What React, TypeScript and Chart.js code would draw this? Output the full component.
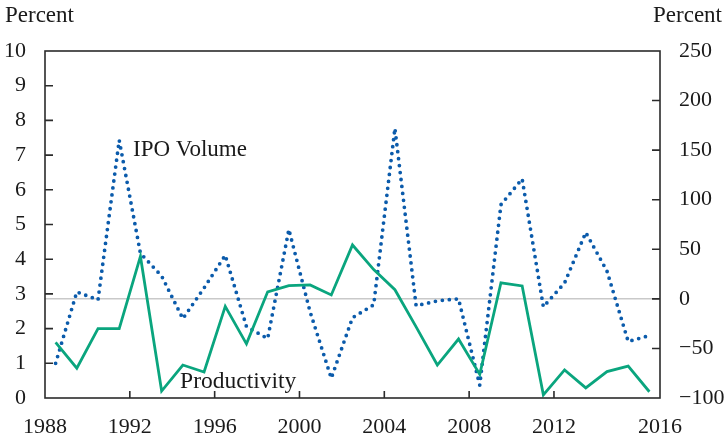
import React, { useEffect, useRef } from 'react';
import { Chart, registerables } from 'chart.js';

Chart.register(...registerables);

// Annual observations, 1988–2016
const years = [
  '1988', '1989', '1990', '1991', '1992', '1993', '1994', '1995', '1996', '1997',
  '1998', '1999', '2000', '2001', '2002', '2003', '2004', '2005', '2006', '2007',
  '2008', '2009', '2010', '2011', '2012', '2013', '2014', '2015', '2016',
];

// Productivity growth, percent (left axis)
const productivity = [
  1.6, 0.86, 2.0, 2.0, 4.08, 0.2, 0.95, 0.75, 2.64, 1.56,
  3.06, 3.24, 3.26, 2.97, 4.41, 3.7, 3.12, 2.05, 0.95, 1.7,
  0.68, 3.32, 3.23, 0.09, 0.81, 0.29, 0.76, 0.92, 0.18,
];

// IPO volume growth, percent (right axis)
const ipoVolume = [
  -65, 7, -1, 160, 46, 23, -20, 11, 44, -28,
  -40, 70, -13, -80, -19, -6, 172, -7, -2, 0,
  -87, 95, 121, -8, 16, 67, 28, -43, -37,
];

// x-axis tick labels (placed at year boundaries; the last sits at the axis end)
const xTickLabels = ['1988', '1992', '1996', '2000', '2004', '2008', '2012', '2016'];
const leftTicks = [0, 1, 2, 3, 4, 5, 6, 7, 8, 9, 10];
const rightTicks = [-100, -50, 0, 50, 100, 150, 200, 250];

const FONT = '"Liberation Serif", "DejaVu Serif", serif';
const TEXT = '#1a1a1a';
const GREEN = '#0aa57e';
const BLUE = '#0b5bab';

const xTickValues = xTickLabels.map((y) =>
  years.indexOf(y) >= 0 && y !== years[years.length - 1] ? years.indexOf(y) : years.length
);

const fmt = (v: number) => (v < 0 ? '\u2212' + Math.abs(v) : String(v));

const framePlugin = {
  id: 'frame',
  beforeDatasetsDraw(chart: any) {
    const { ctx, chartArea: a, scales } = chart;
    const y0 = scales.y1.getPixelForValue(0);
    ctx.save();
    ctx.strokeStyle = '#c9c9c9';
    ctx.lineWidth = 1.5;
    ctx.beginPath();
    ctx.moveTo(a.left, y0);
    ctx.lineTo(a.right, y0);
    ctx.stroke();
    ctx.restore();
  },
  afterDatasetsDraw(chart: any) {
    const { ctx, chartArea: a, scales } = chart;
    ctx.save();
    ctx.strokeStyle = '#2b2b2b';
    ctx.lineWidth = 1.6;
    ctx.strokeRect(a.left, a.top, a.right - a.left, a.bottom - a.top);
    const tl = 8;
    ctx.beginPath();
    leftTicks.forEach((v) => {
      if (v === leftTicks[0] || v === leftTicks[leftTicks.length - 1]) return;
      const y = scales.y.getPixelForValue(v);
      ctx.moveTo(a.left, y);
      ctx.lineTo(a.left + tl, y);
    });
    rightTicks.forEach((v) => {
      if (v === rightTicks[0] || v === rightTicks[rightTicks.length - 1]) return;
      const y = scales.y1.getPixelForValue(v);
      ctx.moveTo(a.right, y);
      ctx.lineTo(a.right - tl, y);
    });
    xTickValues.forEach((v) => {
      if (v === 0 || v === years.length) return;
      const x = scales.x.getPixelForValue(v);
      ctx.moveTo(x, a.bottom);
      ctx.lineTo(x, a.bottom - 7);
    });
    ctx.stroke();

    ctx.fillStyle = TEXT;
    ctx.textBaseline = 'middle';
    ctx.textAlign = 'left';
    ctx.font = `23px ${FONT}`;
    ctx.fillText('IPO Volume', scales.x.getPixelForValue(4.15), scales.y.getPixelForValue(7.15));
    ctx.font = `23.5px ${FONT}`;
    ctx.fillText('Productivity', scales.x.getPixelForValue(6.37), scales.y.getPixelForValue(0.46));
    ctx.restore();
  },
  afterDraw(chart: any) {
    const { ctx } = chart;
    ctx.save();
    ctx.fillStyle = TEXT;
    ctx.font = `23px ${FONT}`;
    ctx.textBaseline = 'middle';
    ctx.textAlign = 'left';
    ctx.fillText('Percent', 5, 16);
    ctx.textAlign = 'right';
    ctx.fillText('Percent', chart.width - 3, 16);
    ctx.restore();
  },
};

export default function App() {
  const ref = useRef<HTMLCanvasElement | null>(null);

  useEffect(() => {
    if (!ref.current) return;
    const tickFont = { family: FONT, size: 22 };
    const chart = new Chart(ref.current, {
      type: 'line',
      data: {
        datasets: [
          {
            label: 'Productivity',
            data: productivity.map((v, i) => ({ x: i + 0.5, y: v })),
            borderColor: GREEN,
            borderWidth: 2.8,
            pointRadius: 0,
            tension: 0,
            yAxisID: 'y',
          },
          {
            label: 'IPO Volume',
            data: ipoVolume.map((v, i) => ({ x: i + 0.5, y: v })),
            borderColor: BLUE,
            borderWidth: 3.8,
            borderDash: [0, 7],
            borderCapStyle: 'round',
            pointRadius: 0,
            tension: 0,
            yAxisID: 'y1',
          },
        ],
      },
      options: {
        animation: false,
        responsive: true,
        maintainAspectRatio: false,
        layout: { padding: { top: 51, left: 0, right: 0, bottom: 0 } },
        plugins: { legend: { display: false }, tooltip: { enabled: false } },
        scales: {
          x: {
            type: 'linear',
            min: 0,
            max: years.length,
            afterBuildTicks: (scale: any) => {
              scale.ticks = xTickValues.map((v) => ({ value: v }));
            },
            afterFit: (scale: any) => {
              scale.height = 43;
            },
            grid: { display: false, drawTicks: false },
            border: { display: false },
            ticks: {
              autoSkip: false,
              maxRotation: 0,
              padding: 16,
              color: TEXT,
              font: tickFont,
              callback: (v: any) => {
                const k = xTickValues.indexOf(Number(v));
                return k >= 0 ? xTickLabels[k] : '';
              },
            },
          },
          y: {
            position: 'left',
            min: 0,
            max: 10,
            afterBuildTicks: (scale: any) => {
              scale.ticks = leftTicks.map((v) => ({ value: v }));
            },
            afterFit: (scale: any) => {
              scale.width = 45;
            },
            grid: { display: false, drawTicks: false },
            border: { display: false },
            ticks: { padding: 19, color: TEXT, font: tickFont },
          },
          y1: {
            position: 'right',
            min: -100,
            max: 250,
            afterBuildTicks: (scale: any) => {
              scale.ticks = rightTicks.map((v) => ({ value: v }));
            },
            afterFit: (scale: any) => {
              scale.width = 65;
            },
            grid: { display: false, drawTicks: false },
            border: { display: false },
            ticks: { padding: 19, color: TEXT, font: tickFont, callback: (v: any) => fmt(Number(v)) },
          },
        },
      },
      plugins: [framePlugin],
    } as any);
    return () => chart.destroy();
  }, []);

  return (
    <div style={{ position: 'absolute', left: 0, top: 0, width: 725, height: 441 }}>
      <canvas ref={ref} />
    </div>
  );
}
